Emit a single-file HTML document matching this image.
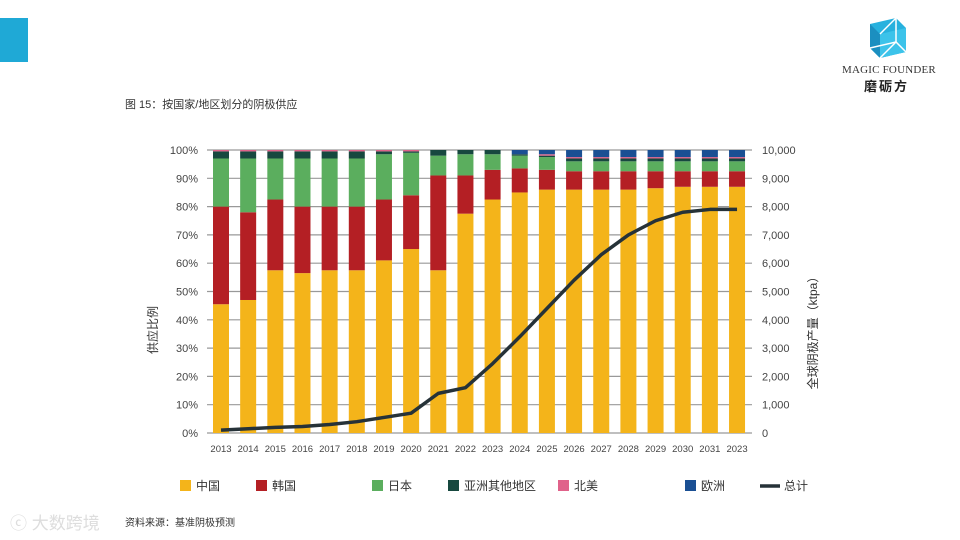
<!DOCTYPE html>
<html><head><meta charset="utf-8"><style>
body{margin:0;width:960px;height:540px;background:#fff;position:relative;overflow:hidden;font-family:"Liberation Sans","Noto Sans CJK SC",sans-serif;}
.abs{position:absolute}
</style></head><body>
<div class="abs" style="left:0;top:18px;width:28px;height:44px;background:#1fa9d6"></div>
<svg class="abs" style="left:866px;top:14px" width="44" height="46" viewBox="0 0 44 46">
<polygon points="4,10 30,4 40,14 40,38 14,44 4,34" fill="#27b1de"/>
<polygon points="4,10 14,20 14,44 4,34" fill="#1b8fc0"/>
<polygon points="14,20 40,14 40,38 14,44" fill="#3cc3ea"/>
<polyline points="14,20 30,4 30,28 14,44" fill="none" stroke="#fff" stroke-width="1.5"/>
<polyline points="4,34 30,28 40,38" fill="none" stroke="#fff" stroke-width="1.5"/>
</svg>
<div class="abs" style="left:842px;top:64px;font-family:'Liberation Serif',serif;font-size:11px;color:#333;letter-spacing:0.2px">MAGIC FOUNDER</div>
<div class="abs" style="left:864px;top:76px;font-size:13px;font-weight:bold;color:#222;letter-spacing:2px">磨砺方</div>
<div class="abs" style="left:125px;top:96px;font-size:11px;color:#333">图 15：按国家/地区划分的阴极供应</div>
<div class="abs" style="left:125px;top:514px;font-size:10px;color:#333">资料来源：基准阴极预测</div>
<div class="abs" style="left:10px;top:509px;font-size:17px;color:#ddd">ⓒ 大数跨境</div>
<svg id="chart" class="abs" style="left:0;top:0" width="960" height="540"></svg>
<script>
const years=["2013","2014","2015","2016","2017","2018","2019","2020","2021","2022","2023","2024","2025","2026","2027","2028","2029","2030","2031","2023"];
const china=[45.5,47,57.5,56.5,57.5,57.5,61,65,57.5,77.5,82.5,85,86,86,86,86,86.5,87,87,87];
const korea=[34.5,31,25,23.5,22.5,22.5,21.5,19,33.5,13.5,10.5,8.5,7,6.5,6.5,6.5,6,5.5,5.5,5.5];
const japan=[17,19,14.5,17,17,17,16,15,7,7.5,5.5,4.5,4.5,3.5,3.5,3.5,3.5,3.5,3.5,3.5];
const otherAsia=[2.5,2.5,2.5,2.5,2.5,2.5,1,0.5,2,1.5,1.5,0.5,0.5,1,1,1,1,1,1,1];
const northAmerica=[0.5,0.5,0.5,0.5,0.5,0.5,0.5,0.5,0,0,0,0,0.5,0.5,0.5,0.5,0.5,0.5,0.5,0.5];
const europe=[0,0,0,0,0,0,0,0,0,0,0,1.5,1.5,2.5,2.5,2.5,2.5,2.5,2.5,2.5];
const total=[100,150,200,230,300,400,550,700,1400,1600,2450,3400,4400,5400,6300,7000,7500,7800,7900,7900];
const leftTicks=["0%","10%","20%","30%","40%","50%","60%","70%","80%","90%","100%"];
const rightTicks=["0","1,000","2,000","3,000","4,000","5,000","6,000","7,000","8,000","9,000","10,000"];
const series=[["china",china,"#f4b41a"],["korea",korea,"#b41f24"],["japan",japan,"#5bae5e"],["other-asia",otherAsia,"#17483f"],["north-america",northAmerica,"#e0628a"],["europe",europe,"#1a4f93"]];
const NS="http://www.w3.org/2000/svg",svg=document.getElementById("chart");
const y0=433,y1=150,xStart=221,step=27.16,bw=16;
const yL=v=>y0-(v/100)*(y0-y1), yR=v=>y0-(v/10000)*(y0-y1), xC=i=>xStart+i*step;
function mk(t,a){const e=document.createElementNS(NS,t);for(const k in a)e.setAttribute(k,a[k]);svg.appendChild(e);return e;}
leftTicks.forEach((t,i)=>{const y=yL(i*10);
const g=mk("line",{x1:207,x2:752,y1:y,y2:y,stroke:"#999","stroke-width":1.2});

const l=mk("text",{x:198,y:y+4,"text-anchor":"end","font-size":11,fill:"#444"});l.textContent=t;

const r=mk("text",{x:762,y:y+4,"font-size":11,fill:"#444"});r.textContent=rightTicks[i];
});
years.forEach((yr,i)=>{let acc=0;const x=xC(i)-bw/2;
series.forEach(([n,arr,c])=>{const v=arr[i];if(v>0){const r=mk("rect",{x:x,y:yL(acc+v),width:bw,height:yL(acc)-yL(acc+v),fill:c});
}acc+=v;});
const t=mk("text",{x:xC(i),y:452,"text-anchor":"middle","font-size":9.5,fill:"#444"});t.textContent=yr;
});
const p=mk("polyline",{points:total.map((v,i)=>xC(i)+","+yR(v)).join(" "),fill:"none",stroke:"#263238","stroke-width":3.5,"stroke-linejoin":"round"});

const lt=mk("text",{transform:"translate(157,330) rotate(-90)","text-anchor":"middle","font-size":12,fill:"#333"});lt.textContent="供应比例";

const rt=mk("text",{transform:"translate(817,330) rotate(-90)","text-anchor":"middle","font-size":12,fill:"#333"});rt.textContent="全球阴极产量（ktpa）";

const legend=[["中国","#f4b41a",180],["韩国","#b41f24",256],["日本","#5bae5e",372],["亚洲其他地区","#17483f",448],["北美","#e0628a",558],["欧洲","#1a4f93",685]];
legend.forEach(([n,c,x])=>{const r=mk("rect",{x:x,y:480,width:11,height:11,fill:c});

const t=mk("text",{x:x+16,y:490,"font-size":12,fill:"#333"});t.textContent=n;
});
const ll=mk("line",{x1:760,x2:780,y1:486,y2:486,stroke:"#263238","stroke-width":3.5});

const lt2=mk("text",{x:784,y:490,"font-size":12,fill:"#333"});lt2.textContent="总计";

</script>
</body></html>
